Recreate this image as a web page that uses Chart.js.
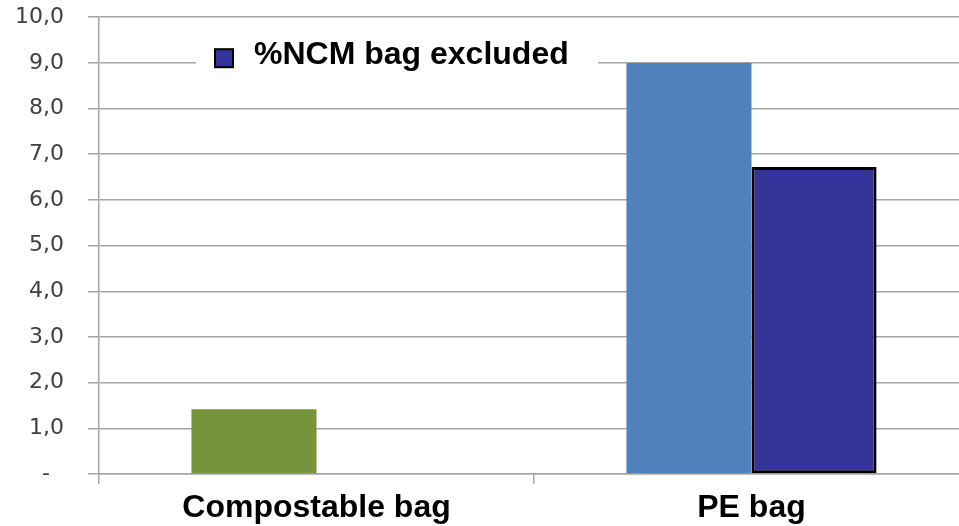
<!DOCTYPE html>
<html>
<head>
<meta charset="utf-8">
<script src="https://cdn.jsdelivr.net/npm/chart.js@4/dist/chart.umd.min.js"></script>
<style>
    html, body { margin: 0; padding: 0; background: #fff; overflow: hidden; }
    #wrap { width: 990px; height: 546px; margin-top: -20px; }
</style>
</head>
<body>
<div id="wrap"><canvas id="ncmChart"></canvas></div>
<script>
const categories = ['Compostable bag', 'PE bag']
const ncmValues = [1.42, 9.0]
const ncmColors = ['#77933C', '#4F81BD']
const excludedLabel = '%NCM bag excluded'
const excludedValues = [null, 6.72]
const yTicks = [0, 1, 2, 3, 4, 5, 6, 7, 8, 9, 10]

// legend drawn inside the plot, white box over the gridline
const insideLegend = {
    id: 'insideLegend',
    afterDraw(chart) {
        const ctx = chart.ctx
        const area = chart.chartArea
        const ds = chart.data.datasets[1]
        const x = area.left + 97
        const y = area.top + 22
        ctx.save()
        ctx.fillStyle = '#fff'
        ctx.fillRect(x, y, 402, 44)
        ctx.fillStyle = ds.backgroundColor
        ctx.fillRect(x + 19, y + 10, 18, 18)
        ctx.strokeStyle = '#000'
        ctx.lineWidth = 2
        ctx.strokeRect(x + 19, y + 10, 18, 18)
        ctx.fillStyle = '#000'
        ctx.font = 'bold 32px "Liberation Sans", Arial, sans-serif'
        ctx.textBaseline = 'alphabetic'
        ctx.fillText(ds.label, x + 58, y + 25)
        ctx.restore()
    }
}

document.addEventListener('DOMContentLoaded', function() {
    const ctx = document.getElementById('ncmChart').getContext('2d')
    new Chart(ctx, {
        type: 'bar',
        data: {
            labels: categories,
            datasets: [
                {
                    label: '%NCM',
                    data: ncmValues,
                    backgroundColor: ncmColors,
                    borderWidth: 0
                },
                {
                    label: excludedLabel,
                    data: excludedValues,
                    backgroundColor: '#333399',
                    borderColor: '#000',
                    borderWidth: 3,
                    borderSkipped: false
                }
            ]
        },
        options: {
            responsive: true,
            maintainAspectRatio: false,
            animation: { duration: 0 },
            layout: { padding: { top: 0, right: 21, left: 0, bottom: 0 } },
            datasets: {
                bar: { categoryPercentage: 0.575, barPercentage: 1.0 }
            },
            scales: {
                x: {
                    grid: {
                        offset: true,
                        drawOnChartArea: false,
                        drawTicks: true,
                        tickLength: 10,
                        color: '#A6A6A6',
                        lineWidth: 1.5
                    },
                    border: { color: '#A6A6A6', width: 1.5 },
                    ticks: {
                        color: '#000',
                        padding: 5,
                        font: { family: '"Liberation Sans", Arial, sans-serif', size: 32, weight: 'bold' }
                    },
                    afterFit: (scale) => { scale.height = 52 }
                },
                y: {
                    min: 0,
                    max: 10,
                    afterBuildTicks: (scale) => {
                        scale.ticks = yTicks.map(v => ({ value: v }))
                    },
                    grid: {
                        color: '#A6A6A6',
                        lineWidth: 1.5,
                        tickLength: 11
                    },
                    border: { color: '#A6A6A6', width: 1.5 },
                    ticks: {
                        color: '#404040',
                        padding: 24,
                        font: { family: '"DejaVu Sans", sans-serif', size: 22 },
                        callback: (v) => v === 0 ? '-  ' : v.toFixed(1).replace('.', ',')
                    },
                    afterFit: (scale) => { scale.width = 99 }
                }
            },
            plugins: {
                legend: { display: false },
                tooltip: { enabled: false }
            }
        },
        plugins: [insideLegend]
    })
})
</script>
</body>
</html>
